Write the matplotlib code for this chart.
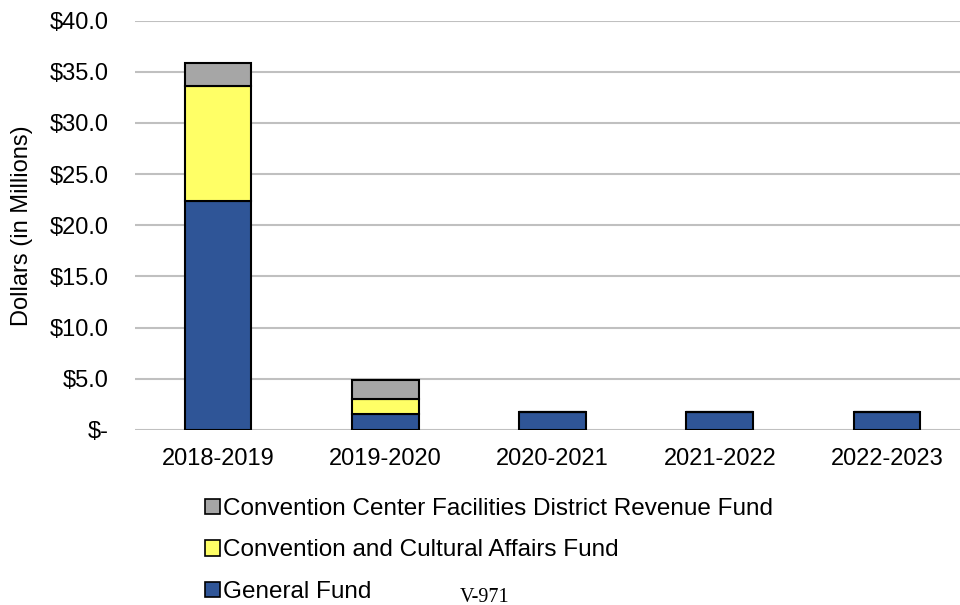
import matplotlib
matplotlib.use('Agg')
import matplotlib.pyplot as plt
from matplotlib.patches import Patch

plt.rcParams['font.family'] = ['Liberation Sans', 'DejaVu Sans']

years = ['2018-2019', '2019-2020', '2020-2021', '2021-2022', '2022-2023']
general_fund = [22.4, 1.6, 1.75, 1.75, 1.75]
cultural_fund = [11.2, 1.4, 0.0, 0.0, 0.0]
ccfd_fund = [2.2, 1.9, 0.0, 0.0, 0.0]
y_ticks = [0, 5, 10, 15, 20, 25, 30, 35, 40]
y_labels = ['$-', '$5.0', '$10.0', '$15.0', '$20.0', '$25.0', '$30.0', '$35.0', '$40.0']

blue = '#2F5597'
yellow = '#FFFF66'
grey = '#A6A6A6'

fig = plt.figure(figsize=(9.6, 6.05), dpi=100)
ax = fig.add_axes([135 / 960, 1 - 430 / 605, 835 / 960, 409.5 / 605])

x = list(range(len(years)))
w = 0.4
bottom2 = [g + c for g, c in zip(general_fund, cultural_fund)]
ax.bar(x, general_fund, w, color=blue, edgecolor='black', linewidth=1.5, zorder=3)
ax.bar(x, cultural_fund, w, bottom=general_fund, color=yellow, edgecolor='black', linewidth=1.5, zorder=3)
ax.bar(x, ccfd_fund, w, bottom=bottom2, color=grey, edgecolor='black', linewidth=1.5, zorder=3)

ax.set_xlim(-0.496, 4.496)
ax.set_ylim(0, 40)
ax.set_yticks(y_ticks)
ax.set_yticklabels(y_labels, fontsize=17)
ax.set_xticks(x)
ax.set_xticklabels(years, fontsize=17)
ax.tick_params(length=0)
ax.tick_params(axis='y', pad=19)
ax.tick_params(axis='x', pad=13)
ax.yaxis.grid(True, color='#C0C0C0', linewidth=1.5, zorder=0)
for s in ax.spines.values():
    s.set_visible(False)
ax.set_ylabel('Dollars (in Millions)', fontsize=17)
ax.yaxis.set_label_coords((22 - 135) / 835, 0.5)
ax.yaxis.label.set_va('center')

handles = [Patch(facecolor=grey, edgecolor='black', linewidth=1.2),
           Patch(facecolor=yellow, edgecolor='black', linewidth=1.2),
           Patch(facecolor=blue, edgecolor='black', linewidth=1.2)]
labels = ['Convention Center Facilities District Revenue Fund',
          'Convention and Cultural Affairs Fund',
          'General Fund']
fig.legend(handles, labels, loc='upper left', bbox_to_anchor=(205 / 960, 1 - 498 / 605),
           frameon=False, fontsize=17.5, handlelength=0.6, handleheight=0.6,
           handletextpad=0.15, labelspacing=0.8, borderpad=0, borderaxespad=0)

fig.text(460 / 960, 1 - 597 / 605, 'V-971', family='Liberation Serif', fontsize=14.5,
         va='center', ha='left')

fig.savefig('out.png', dpi=100)
